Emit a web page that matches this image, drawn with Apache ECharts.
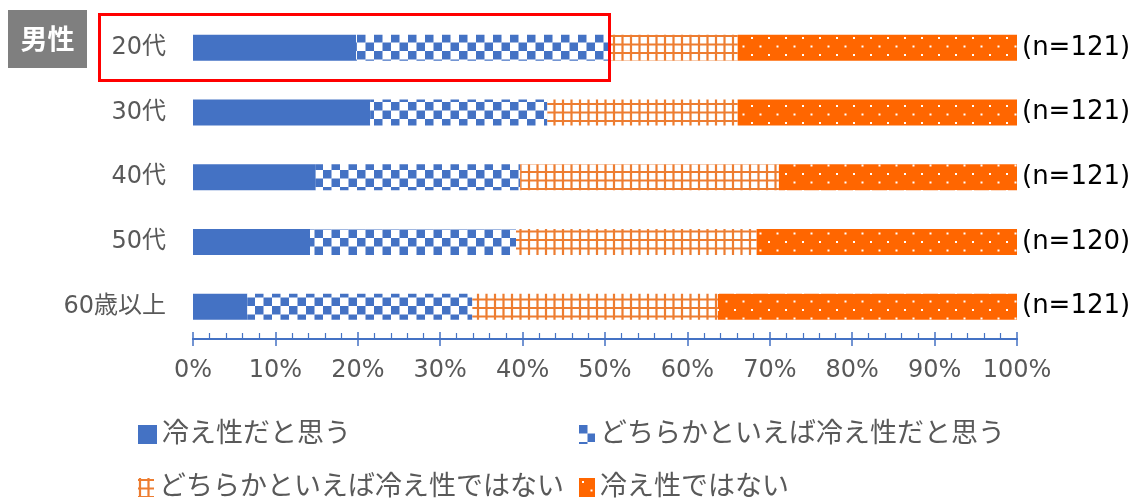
<!DOCTYPE html>
<html>
<head>
<meta charset="utf-8">
<script src="https://cdn.jsdelivr.net/npm/echarts@6/dist/echarts.min.js"></script>
<style>
  html, body { margin: 0; padding: 0; background: #fff; }
  #chart { width: 1137px; height: 500px; }
</style>
</head>
<body>
<div id="chart"></div>
<script>
// Age groups (top to bottom) and sample sizes
const categories = ['20代', '30代', '40代', '50代', '60歳以上'];
const sampleSizes = [121, 121, 121, 120, 121];

// Answer shares in percent, one array per answer
const seriesNames = [
  '冷え性だと思う',
  'どちらかといえば冷え性だと思う',
  'どちらかといえば冷え性ではない',
  '冷え性ではない'
];
const thinkYes = [19.8, 21.5, 14.9, 14.2, 6.6];
const ratherYes = [30.6, 21.5, 24.8, 25.0, 27.3];
const ratherNo = [15.7, 23.1, 31.4, 29.2, 29.8];
const thinkNo = [33.9, 33.9, 28.9, 31.6, 36.3];

// Axis tick values
const tickValues = [0, 10, 20, 30, 40, 50, 60, 70, 80, 90, 100];

const FONT = '"DejaVu Sans", "Noto Sans CJK JP", sans-serif';
const BLUE = '#4472C4';
const ORANGE_LINE = '#ED7D31';
const ORANGE_FILL = '#FF6600';
const GRAY_TEXT = '#595959';

// --- fill patterns -------------------------------------------------------
function makeTile(size, draw) {
  const c = document.createElement('canvas');
  c.width = size; c.height = size;
  draw(c.getContext('2d'), size);
  return c;
}
// blue / white checkerboard
const checkerTile = makeTile(17, (ctx, s) => {
  ctx.fillStyle = '#fff';
  ctx.fillRect(0, 0, s, s);
  ctx.fillStyle = BLUE;
  ctx.fillRect(0, 0, s / 2, s / 2);
  ctx.fillRect(s / 2, s / 2, s / 2, s / 2);
});
// orange cross-hatch grid on white
const gridTile = makeTile(17, (ctx, s) => {
  ctx.fillStyle = '#fff';
  ctx.fillRect(0, 0, s, s);
  ctx.strokeStyle = ORANGE_LINE;
  ctx.lineWidth = 2.2;
  ctx.beginPath();
  [2, 10.5].forEach(p => {
    ctx.moveTo(p, 0); ctx.lineTo(p, s);
    ctx.moveTo(0, p); ctx.lineTo(s, p);
  });
  ctx.stroke();
});
// orange with small white dots
const dotTile = makeTile(17, (ctx, s) => {
  ctx.fillStyle = ORANGE_FILL;
  ctx.fillRect(0, 0, s, s);
  ctx.fillStyle = '#fff';
  ctx.fillRect(3, 3, 2, 2);
  ctx.fillRect(11.5, 11.5, 2, 2);
});

const fills = [
  BLUE,
  { image: checkerTile, repeat: 'repeat' },
  { image: gridTile, repeat: 'repeat' },
  { image: dotTile, repeat: 'repeat' }
];
const values = [thinkYes, ratherYes, ratherNo, thinkNo];

const series = seriesNames.map((name, i) => {
  const s = {
    name: name,
    type: 'bar',
    stack: 'total',
    barWidth: 26,
    data: values[i],
    itemStyle: { color: fills[i] },
    emphasis: { disabled: true }
  };
  if (i === seriesNames.length - 1) {
    s.label = {
      show: true,
      position: 'right',
      distance: 5,
      color: '#000',
      fontFamily: FONT,
      fontSize: 26,
      formatter: p => '(n=' + sampleSizes[p.dataIndex] + ')'
    };
  }
  return s;
});

// legend laid out as a 2 x 2 block
const legendPos = [
  { left: 138, top: 421 },
  { left: 579, top: 421 },
  { left: 138, top: 474 },
  { left: 579, top: 474 }
];
const legends = seriesNames.map((name, i) => ({
  data: [name],
  left: legendPos[i].left,
  top: legendPos[i].top,
  padding: 0,
  icon: 'rect',
  itemWidth: i === 0 ? 19 : 16,
  itemHeight: 19,
  textStyle: { fontFamily: FONT, fontSize: 27, color: GRAY_TEXT },
  selectedMode: false
}));

const xCommon = {
  type: 'value',
  min: tickValues[0],
  max: tickValues[tickValues.length - 1],
  interval: tickValues[1] - tickValues[0],
  position: 'bottom',
  splitLine: { show: false },
  axisLine: { show: true, lineStyle: { color: BLUE, width: 2 } }
};

const option = {
  animation: false,
  grid: { left: 193, right: 120, top: 15.5, bottom: 161 },
  legend: legends,
  xAxis: [
    Object.assign({}, xCommon, {
      axisTick: { show: true, inside: true, length: 7, lineStyle: { color: BLUE, width: 1.5 } },
      minorTick: { show: true, splitNumber: 5, length: 6, lineStyle: { color: BLUE, width: 1.2 } },
      axisLabel: {
        margin: 20,
        fontFamily: FONT,
        fontSize: 24,
        color: GRAY_TEXT,
        formatter: '{value}%'
      }
    }),
    Object.assign({}, xCommon, {
      axisTick: { show: true, inside: false, length: 7, lineStyle: { color: BLUE, width: 1.5 } },
      axisLabel: { show: false }
    })
  ],
  yAxis: {
    type: 'category',
    data: categories,
    inverse: true,
    axisLine: { show: false },
    axisTick: { show: false },
    axisLabel: { margin: 27, fontFamily: FONT, fontSize: 24, color: GRAY_TEXT }
  },
  series: series,
  graphic: [
    {
      type: 'rect',
      shape: { x: 8, y: 10, width: 79, height: 58 },
      style: { fill: '#7F7F7F' },
      z: 10
    },
    {
      type: 'text',
      x: 47.5,
      y: 39,
      style: {
        text: '男性',
        fill: '#fff',
        font: 'bold 27px "Noto Sans CJK JP", sans-serif',
        align: 'center',
        verticalAlign: 'middle'
      },
      z: 11
    },
    {
      type: 'rect',
      shape: { x: 99.5, y: 14.5, width: 510, height: 66 },
      style: { fill: 'none', stroke: '#FF0000', lineWidth: 3 },
      z: 20
    }
  ]
};

const chart = echarts.init(document.getElementById('chart'), null, { renderer: 'canvas' });
chart.setOption(option);
</script>
</body>
</html>
